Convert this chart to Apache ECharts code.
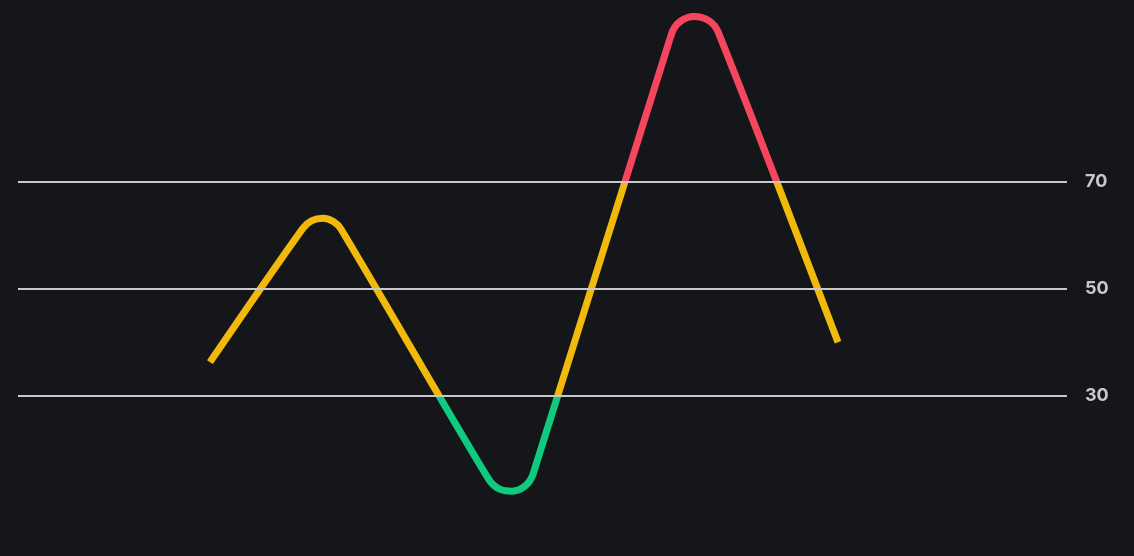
<!DOCTYPE html>
<html>
<head>
<meta charset="utf-8">
<script src="https://cdn.jsdelivr.net/npm/echarts@6/dist/echarts.min.js"></script>
<style>
  html, body { margin: 0; padding: 0; background: #15161a; }
  #main { width: 1134px; height: 556px; }
</style>
</head>
<body>
<div id="main"></div>
<script>
// rsi-like line, coloured by zone; turns are read as a few points round each bend
let xs = [18.30,
    27.17, 28.01, 29.07, 30.10, 30.83,
    44.85, 45.81, 47.12, 48.36, 49.10,
    62.30, 63.11, 64.47, 65.86, 66.76,
    78.17];
let rsi = [36.27,
    61.35, 62.75, 63.17, 62.52, 61.04,
    14.42, 12.62, 12.13, 13.15, 15.32,
    97.68, 99.98, 100.93, 100.15, 97.96,
    39.98];
let levels = [30, 50, 70];

let yellow = '#f0b90b';
let green = '#0ecb81';
let red = '#f6465d';

let myChart = echarts.init(document.getElementById('main'));

let option = {
    backgroundColor: '#15161a',
    animation: false,
    grid: { left: 18, right: 67, top: 21.5, bottom: -4.5 },
    xAxis: { type: 'value', min: 0, max: 100, show: false },
    yAxis: { type: 'value', min: 0, max: 100, show: false },
    visualMap: {
        show: false,
        dimension: 1,
        pieces: [
            { lt: 30, color: green },
            { gte: 30, lte: 70, color: yellow },
            { gt: 70, color: red }
        ]
    },
    series: [{
        type: 'line',
        data: xs.map(function (x, i) { return [x, rsi[i]]; }),
        smooth: 0.3,
        clip: false,
        showSymbol: false,
        lineStyle: { width: 7, cap: 'butt', join: 'round' },
        markLine: {
            silent: true,
            symbol: 'none',
            lineStyle: { color: '#c8c8cc', width: 2, type: 'solid' },
            label: {
                position: 'end',
                distance: 18,
                formatter: '{c}',
                color: '#c8c8cc',
                fontWeight: 'bold',
                fontSize: 18,
                fontFamily: 'Inter'
            },
            data: levels.map(function (v) { return { yAxis: v }; })
        }
    }]
};
myChart.setOption(option);
</script>
</body>
</html>
